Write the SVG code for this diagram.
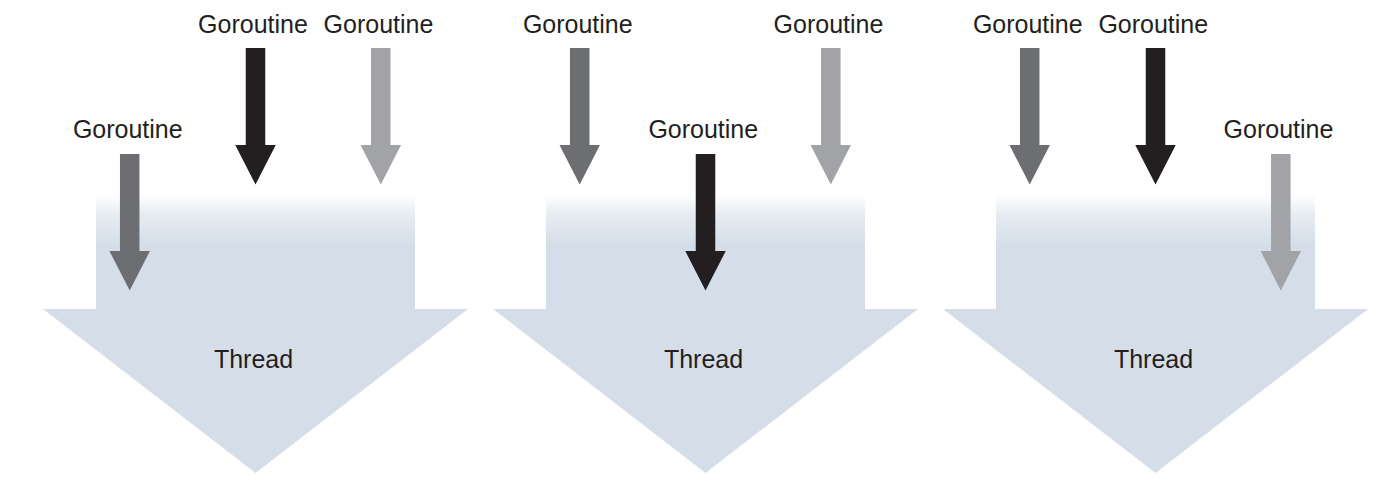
<svg xmlns="http://www.w3.org/2000/svg" xmlns:xlink="http://www.w3.org/1999/xlink" width="1394" height="502" viewBox="0 0 1394 502">
  <style>
    .lbl { font-family: "Liberation Sans", Arial, sans-serif; font-size: 25px; fill: #231f20; text-anchor: middle; }
    .thread { fill: url(#tg); }
    .dark { fill: #6d6e71; }
    .black { fill: #231f20; }
    .light { fill: #a1a3a6; }
  </style>
  <defs>
    <linearGradient id="tg" gradientUnits="userSpaceOnUse" x1="0" y1="195" x2="0" y2="245">
      <stop offset="0" stop-color="#ffffff"/>
      <stop offset="0.35" stop-color="#e9edf2"/>
      <stop offset="1" stop-color="#d5dee8"/>
    </linearGradient>
    <path id="ga" d="M -9.75,0 H 9.75 V 97 H 20.25 L 0,136.5 L -20.25,97 H -9.75 Z"/>
    <polygon id="th" points="96,195 415,195 415,309 468,309 255.5,473 43,309 96,309"/>
  </defs>
  <rect width="1394" height="502" fill="#ffffff"/>

  <!-- Panel 1 -->
  <g id="thread1">
    <use xlink:href="#th" class="thread"/>
    <text class="lbl" x="253.5" y="368">Thread</text>
  </g>
  <g id="g1a"><text class="lbl" x="127.8" y="138">Goroutine</text><use xlink:href="#ga" class="dark" x="129.7" y="154"/></g>
  <g id="g1b"><text class="lbl" x="253" y="33">Goroutine</text><use xlink:href="#ga" class="black" x="255.5" y="48"/></g>
  <g id="g1c"><text class="lbl" x="378.5" y="33">Goroutine</text><use xlink:href="#ga" class="light" x="380.8" y="48"/></g>

  <!-- Panel 2 -->
  <g id="thread2" transform="translate(450,0)">
    <use xlink:href="#th" class="thread"/>
    <text class="lbl" x="253.5" y="368">Thread</text>
  </g>
  <g id="g2a"><text class="lbl" x="577.8" y="33">Goroutine</text><use xlink:href="#ga" class="dark" x="579.7" y="48"/></g>
  <g id="g2b"><text class="lbl" x="703.3" y="138">Goroutine</text><use xlink:href="#ga" class="black" x="705.5" y="154"/></g>
  <g id="g2c"><text class="lbl" x="828.5" y="33">Goroutine</text><use xlink:href="#ga" class="light" x="830.8" y="48"/></g>

  <!-- Panel 3 -->
  <g id="thread3" transform="translate(900,0)">
    <use xlink:href="#th" class="thread"/>
    <text class="lbl" x="253.5" y="368">Thread</text>
  </g>
  <g id="g3a"><text class="lbl" x="1027.8" y="33">Goroutine</text><use xlink:href="#ga" class="dark" x="1029.7" y="48"/></g>
  <g id="g3b"><text class="lbl" x="1153.3" y="33">Goroutine</text><use xlink:href="#ga" class="black" x="1155.5" y="48"/></g>
  <g id="g3c"><text class="lbl" x="1278.5" y="138">Goroutine</text><use xlink:href="#ga" class="light" x="1280.8" y="154"/></g>

  <g id="connectors"/>
</svg>
